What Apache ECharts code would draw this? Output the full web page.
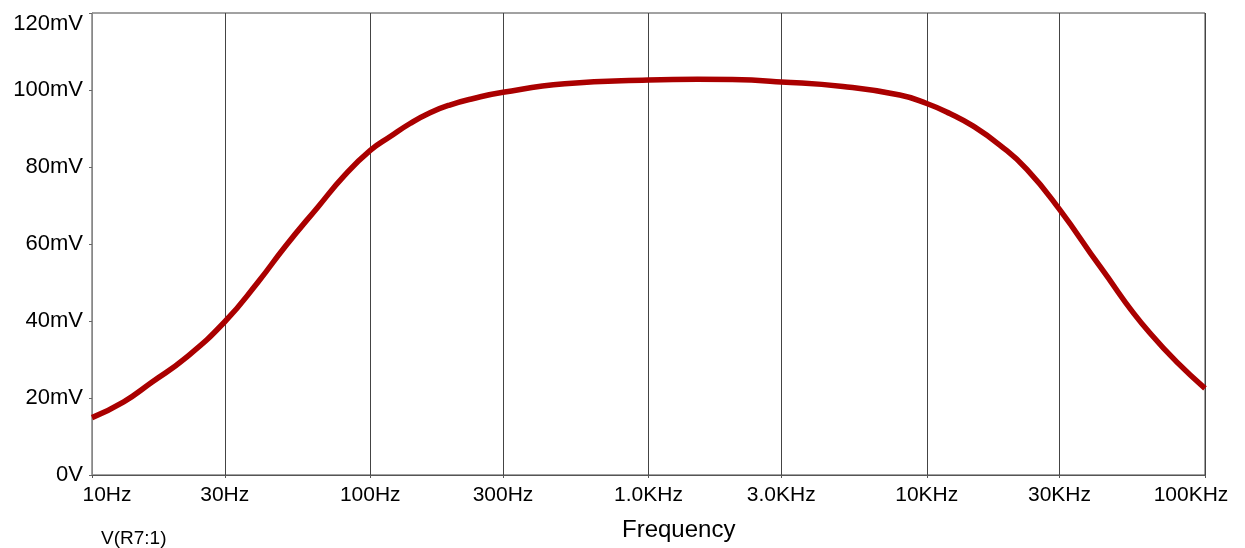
<!DOCTYPE html>
<html><head><meta charset="utf-8">
<script src="https://cdn.jsdelivr.net/npm/echarts@6/dist/echarts.min.js"></script>
<style>html,body{margin:0;padding:0;background:#fff}#c{width:1245px;height:548px}</style>
</head><body><div id="c"></div>
<script>
var freqs = [10, 13, 16.4, 21.6, 30, 39.6, 49.4, 65, 81, 100, 118, 139, 164, 193, 235, 300, 500, 1000, 1500, 2000, 3000, 5000, 8000, 10000, 12100, 14700, 18300, 22900, 30000, 42000, 63500, 100000];
var voltsMv = [14.9, 19.0, 24.1, 30.3, 39.8, 50.2, 59.3, 69.7, 77.9, 84.3, 87.9, 91.3, 94.1, 96.1, 97.8, 99.4, 101.6, 102.6, 102.8, 102.7, 102.1, 100.9, 98.7, 96.5, 93.9, 90.6, 85.7, 79.4, 69.0, 54.1, 36.8, 22.5];
var tickFreqs = [10, 30, 100, 300, 1000, 3000, 10000, 30000, 100000];
var tickLabels = ['10Hz', '30Hz', '100Hz', '300Hz', '1.0KHz', '3.0KHz', '10KHz', '30KHz', '100KHz'];
var yTickLabels = ['0V', '20mV', '40mV', '60mV', '80mV', '100mV', '120mV'];

var lg = function (f) { return Math.log10(f); };
var data = freqs.map(function (f, i) { return [lg(f), voltsMv[i]]; });
var tickPos = tickFreqs.map(lg);
function labelFor(v) {
  for (var i = 0; i < tickPos.length; i++) {
    if (Math.abs(tickPos[i] - v) < 1e-6) {
      if (i === 0) return '{first|' + tickLabels[i] + '}';
      if (i === tickPos.length - 1) return '{last|' + tickLabels[i] + '}';
      return tickLabels[i];
    }
  }
  return '';
}
var font = 'Liberation Sans, Arial, sans-serif';
var chart = echarts.init(document.getElementById('c'), null, {renderer: 'canvas'});
chart.setOption({
  animation: false,
  grid: {left: 92, right: 40, top: 13, bottom: 73, show: true, borderColor: '#444', borderWidth: 1, containLabel: false},
  xAxis: {
    type: 'value', min: 1, max: 5,
    axisLine: {show: true, lineStyle: {color: '#555', width: 1}},
    axisTick: {show: true, customValues: tickPos, length: 3, inside: false, lineStyle: {color: '#555'}},
    axisLabel: {
      customValues: tickPos, formatter: labelFor, color: '#000', fontSize: 21, fontFamily: font, margin: 10,
      showMinLabel: true, showMaxLabel: true,
      rich: {
        first: {fontSize: 21, fontFamily: font, color: '#000', padding: [0, 0, 0, 30]},
        last: {fontSize: 21, fontFamily: font, color: '#000', padding: [0, 28, 0, 0]}
      }
    },
    splitLine: {show: true, lineStyle: {color: '#444', width: 1}}
  },
  yAxis: {
    type: 'value', min: 0, max: 120, interval: 20,
    axisLine: {show: true, lineStyle: {color: '#888', width: 1}},
    axisTick: {show: true, length: 3, lineStyle: {color: '#666'}},
    axisLabel: {
      formatter: function (v) { return yTickLabels[Math.round(v / 20)]; },
      color: '#000', fontSize: 22, fontFamily: font, margin: 9,
      verticalAlignMaxLabel: 'top'
    },
    splitLine: {show: false}
  },
  series: [{
    type: 'line', data: data, smooth: 0.5, showSymbol: false,
    lineStyle: {color: '#aa0000', width: 5.5}
  }],
  graphic: [
    {type: 'text', left: 622, top: 518, style: {text: 'Frequency', font: '24px ' + font, fill: '#000'}},
    {type: 'text', left: 101, top: 529, style: {text: 'V(R7:1)', font: '19px ' + font, fill: '#000'}}
  ]
});
</script></body></html>
